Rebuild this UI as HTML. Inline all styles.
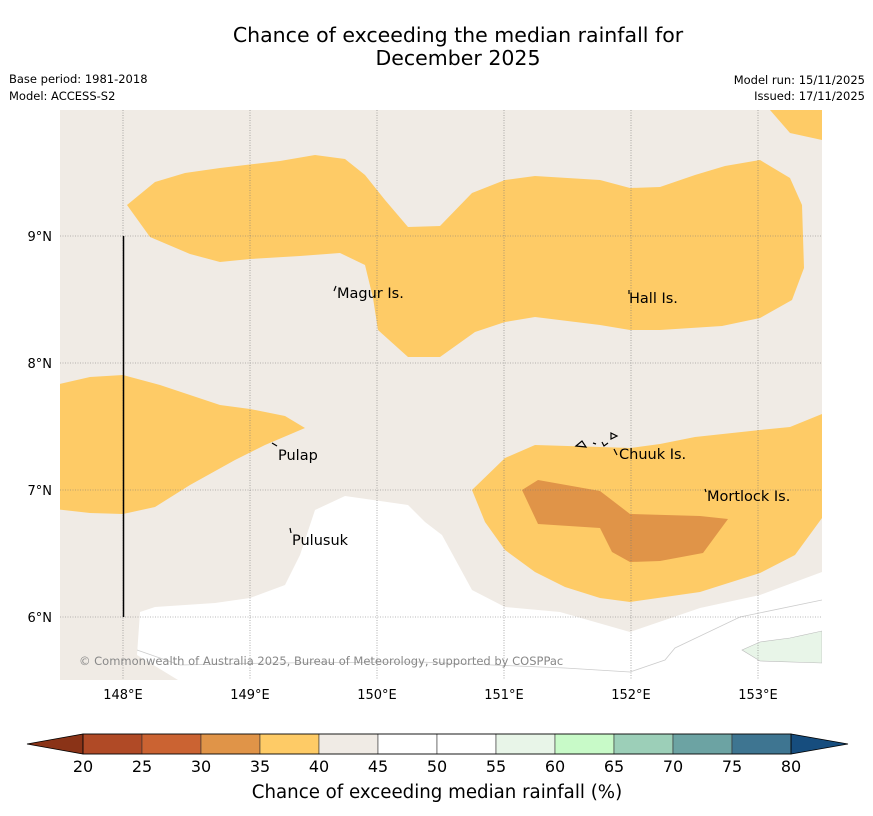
<!DOCTYPE html>
<html><head><meta charset="utf-8"><style>
body{margin:0;background:#fff;width:873px;height:816px;overflow:hidden;font-family:"DejaVu Sans","Liberation Sans",sans-serif}
svg{display:block;font-family:"DejaVu Sans","Liberation Sans",sans-serif}
</style></head><body>
<svg width="873" height="816" viewBox="0 0 873 816">
<text x="458" y="42" text-anchor="middle" font-size="20.5" fill="#000">Chance of exceeding the median rainfall for</text>
<text x="458" y="65" text-anchor="middle" font-size="20.5" fill="#000">December 2025</text>
<text x="9" y="83" font-size="11.5">Base period: 1981-2018</text>
<text x="9" y="100" font-size="11.5">Model: ACCESS-S2</text>
<text x="865" y="84" font-size="11.5" text-anchor="end">Model run: 15/11/2025</text>
<text x="865" y="100" font-size="11.5" text-anchor="end">Issued: 17/11/2025</text>
<defs><clipPath id="mc"><rect x="60" y="110" width="762" height="570"/></clipPath></defs>
<g clip-path="url(#mc)">
<rect x="60" y="110" width="762" height="570" fill="#f0ebe5"/>
<path fill="#fff" d="M178,680 L137,655 L140,612 L155,607 L215,603 L250,598 L285,585 L300,555 L315,510 L345,496 L408,505 L425,522 L442,535 L472,590 L505,607 L560,612 L630,632 L665,620 L700,608 L760,595 L822,572 L822,680 Z"/>
<path fill="none" stroke="#ccc" stroke-width="0.8" d="M137,650 L180,665 L270,663 L420,662 L565,668 L630,672 L665,660 L675,648 L740,617 L822,600"/>
<path fill="#e8f5e8" stroke="#bbb" stroke-width="0.6" d="M742,650 L760,642 L790,638 L822,631 L822,663 L760,661 Z"/>
<path fill="#fecb66" d="M127,205 L155,182 L185,173 L220,168 L280,161 L315,155 L345,159 L365,175 L385,200 L408,227 L440,226 L472,193 L505,180 L535,176 L600,180 L630,188 L660,187 L695,175 L725,166 L760,160 L790,178 L802,205 L804,268 L792,300 L760,318 L722,326 L660,330 L630,330 L600,325 L535,317 L505,322 L475,332 L440,357 L408,357 L378,330 L373,298 L365,265 L340,253 L300,256 L250,259 L220,262 L190,254 L150,237 Z"/>
<path fill="#fecb66" d="M770,110 L822,110 L822,140 L790,133 Z"/>
<path fill="#fecb66" d="M55,385 L90,377 L123,375 L160,385 L220,405 L250,409 L285,416 L305,428 L265,445 L235,460 L190,485 L155,507 L123,514 L90,513 L55,509 Z"/>
<path fill="#fecb66" d="M472,490 L505,458 L535,445 L600,447 L630,448 L660,444 L695,437 L760,430 L790,427 L822,414 L822,518 L795,555 L760,573 L700,592 L630,602 L600,598 L565,587 L535,572 L505,550 L485,522 Z"/>
<path fill="#e09448" d="M522,490 L538,480 L600,491 L630,514 L700,516 L728,519 L703,553 L660,561 L630,562 L612,552 L600,528 L538,524 Z"/>
<g stroke="#777" stroke-width="0.6" stroke-dasharray="1,1.5">
<line x1="123" y1="110" x2="123" y2="680"/><line x1="250" y1="110" x2="250" y2="680"/><line x1="377" y1="110" x2="377" y2="680"/><line x1="504" y1="110" x2="504" y2="680"/><line x1="631" y1="110" x2="631" y2="680"/><line x1="758" y1="110" x2="758" y2="680"/>
<line x1="60" y1="236" x2="822" y2="236"/><line x1="60" y1="363" x2="822" y2="363"/><line x1="60" y1="490" x2="822" y2="490"/><line x1="60" y1="617" x2="822" y2="617"/>
</g>
<line x1="123.5" y1="236" x2="123.5" y2="617" stroke="#000" stroke-width="1.5"/>
<g stroke="#000" stroke-width="1.2" fill="none">
<path d="M336,286 L334,291"/><path d="M629,290 L629,294"/><path d="M272,443 L277,446"/><path d="M290,528 L291,533"/><path d="M705,489 L706,492"/>
<path d="M576,446 L582,441 L586,447 Z"/><path d="M593,443 L596,444"/><path d="M602,442 L604,446 L608,443"/><path d="M611,433 L617,436 L611,439 Z"/><path d="M614,449 L617,455"/>
</g>
<g font-size="14.5" fill="#000">
<text x="337" y="298">Magur Is.</text><text x="629" y="303">Hall Is.</text><text x="278" y="460">Pulap</text><text x="619" y="459">Chuuk Is.</text><text x="707" y="501">Mortlock Is.</text><text x="292" y="545">Pulusuk</text>
</g>
<text x="79" y="665" font-size="11.5" fill="#888">© Commonwealth of Australia 2025, Bureau of Meteorology, supported by COSPPac</text>
</g>
<g font-size="13" text-anchor="middle">
<text x="123" y="699">148°E</text><text x="250" y="699">149°E</text><text x="377" y="699">150°E</text><text x="504" y="699">151°E</text><text x="631" y="699">152°E</text><text x="758" y="699">153°E</text>
</g>
<g font-size="13" text-anchor="end">
<text x="52" y="241">9°N</text><text x="52" y="368">8°N</text><text x="52" y="495">7°N</text><text x="52" y="622">6°N</text>
</g>
<g id="cbar"></g>
<text x="437" y="798" font-size="18.2" text-anchor="middle">Chance of exceeding median rainfall (%)</text>
</svg>
<script>
const cbTicks=[20,25,30,35,40,45,50,55,60,65,70,75,80];
const cbColors=["#b04a26","#cb6332","#e09448","#fecb66","#f0ebe5","#ffffff","#ffffff","#e8f5e8","#c8fac8","#9ccfb8","#6ca3a3","#3e7591"];
const cbUnder="#8a3317", cbOver="#164d7e";
const NS="http://www.w3.org/2000/svg";
const g=document.getElementById('cbar');
const x0=83,x1=791,y0=734,y1=754;
function cx(v){return x0+(v-20)/(80-20)*(x1-x0);}
function mk(t,a){const e=document.createElementNS(NS,t);for(const k in a)e.setAttribute(k,a[k]);g.appendChild(e);return e;}
let u=mk('polygon',{points:`${x0},${y0} ${x0},${y1} 27,744`,fill:cbUnder,stroke:'#000','stroke-width':0.8});


let o=mk('polygon',{points:`${x1},${y0} ${x1},${y1} 848,744`,fill:cbOver,stroke:'#000','stroke-width':0.8});


for(let i=0;i<cbColors.length;i++){
  const r=mk('rect',{x:cx(cbTicks[i]),y:y0,width:cx(cbTicks[i+1])-cx(cbTicks[i]),height:y1-y0,fill:cbColors[i],stroke:'#333','stroke-width':0.6});
  
  
}
mk('rect',{x:x0,y:y0,width:x1-x0,height:y1-y0,fill:'none',stroke:'#000','stroke-width':0.8});
cbTicks.forEach(v=>{
  const t=mk('text',{x:cx(v),y:772,'font-size':16,'text-anchor':'middle'});
  t.textContent=v;
  
  
});
</script>
</body></html>
